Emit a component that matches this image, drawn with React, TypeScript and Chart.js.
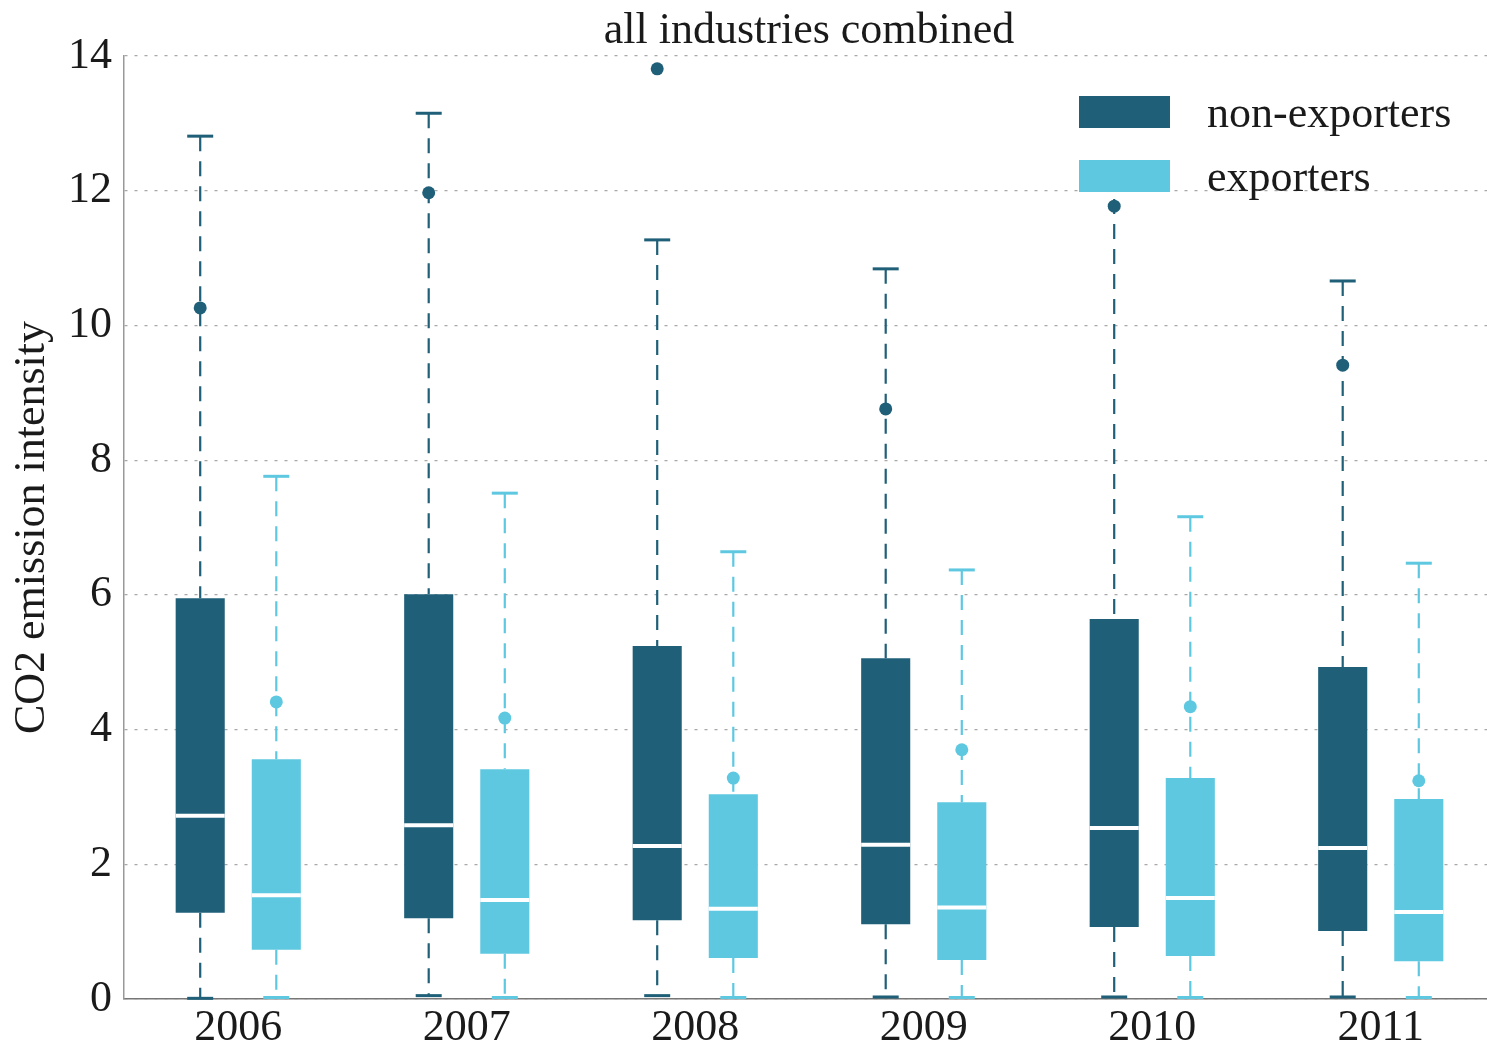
import React, { useEffect, useRef } from 'react';
import { Chart, registerables } from 'chart.js';

Chart.register(...registerables);

const years = ['2006', '2007', '2008', '2009', '2010', '2011'];
const seriesLabels = ['non-exporters', 'exporters'];
const seriesColors = ['#1f5f78', '#5ec8e1'];
const yTicks = [0, 2, 4, 6, 8, 10, 12, 14];

const nonExpLow = [0.01, 0.05, 0.05, 0.03, 0.03, 0.03];
const nonExpQ1 = [1.28, 1.2, 1.17, 1.11, 1.07, 1.01];
const nonExpMedian = [2.72, 2.58, 2.27, 2.29, 2.54, 2.24];
const nonExpQ3 = [5.95, 6.01, 5.24, 5.06, 5.64, 4.93];
const nonExpHigh = [12.81, 13.15, 11.27, 10.84, 12.25, 10.66];
const nonExpDot = [10.26, 11.97, 13.81, 8.76, 11.77, 9.41];

const expLow = [0, 0, 0, 0, 0, 0];
const expQ1 = [0.73, 0.67, 0.61, 0.58, 0.64, 0.56];
const expMedian = [1.54, 1.47, 1.34, 1.36, 1.5, 1.29];
const expQ3 = [3.56, 3.41, 3.04, 2.92, 3.28, 2.97];
const expHigh = [7.76, 7.51, 6.64, 6.37, 7.16, 6.47];
const expDot = [4.41, 4.17, 3.28, 3.7, 4.34, 3.24];

const stats = [
  { low: nonExpLow, q1: nonExpQ1, median: nonExpMedian, q3: nonExpQ3, high: nonExpHigh, dot: nonExpDot },
  { low: expLow, q1: expQ1, median: expMedian, q3: expQ3, high: expHigh, dot: expDot },
];

const FONT = "'Liberation Serif', 'Times New Roman', serif";
const TEXT = '#1a1a1a';

const boxPlugin = {
  id: 'boxExtras',
  beforeDatasetsDraw(chart: any) {
    const ctx = chart.ctx;
    const y = chart.scales.y;
    stats.forEach((s, di) => {
      const meta = chart.getDatasetMeta(di);
      meta.data.forEach((bar: any, i: number) => {
        const x = bar.x;
        ctx.save();
        ctx.strokeStyle = seriesColors[di];
        ctx.lineWidth = 2.2;
        ctx.setLineDash([15, 10]);
        ctx.beginPath();
        ctx.moveTo(x, y.getPixelForValue(s.high[i]));
        ctx.lineTo(x, y.getPixelForValue(s.q3[i]));
        ctx.stroke();
        ctx.beginPath();
        ctx.moveTo(x, y.getPixelForValue(s.q1[i]));
        ctx.lineTo(x, y.getPixelForValue(s.low[i]));
        ctx.stroke();
        ctx.restore();
      });
    });
  },
  afterDatasetsDraw(chart: any) {
    const ctx = chart.ctx;
    const y = chart.scales.y;
    stats.forEach((s, di) => {
      const meta = chart.getDatasetMeta(di);
      meta.data.forEach((bar: any, i: number) => {
        const x = bar.x;
        const w = bar.width;
        ctx.save();
        ctx.strokeStyle = seriesColors[di];
        ctx.lineWidth = 3;
        ctx.setLineDash([]);
        [s.high[i], s.low[i]].forEach((v) => {
          const py = y.getPixelForValue(v) - (v === 0 ? 1.5 : 0);
          ctx.beginPath();
          ctx.moveTo(x - 13, py);
          ctx.lineTo(x + 13, py);
          ctx.stroke();
        });
        ctx.strokeStyle = '#ffffff';
        ctx.lineWidth = 4;
        const my = y.getPixelForValue(s.median[i]);
        ctx.beginPath();
        ctx.moveTo(x - w / 2, my);
        ctx.lineTo(x + w / 2, my);
        ctx.stroke();
        ctx.fillStyle = seriesColors[di];
        ctx.beginPath();
        ctx.arc(x, y.getPixelForValue(s.dot[i]), 6.5, 0, Math.PI * 2);
        ctx.fill();
        ctx.restore();
      });
    });
  },
  afterDraw(chart: any) {
    const ctx = chart.ctx;
    ctx.save();
    ctx.font = `44px ${FONT}`;
    ctx.fillStyle = TEXT;
    ctx.textAlign = 'center';
    ctx.textBaseline = 'alphabetic';
    ctx.fillText('all industries combined', 809, 43);
    const bx = 1079;
    const tops = [96, 160];
    chart.data.datasets.forEach((ds: any, i: number) => {
      ctx.fillStyle = ds.backgroundColor;
      ctx.fillRect(bx, tops[i], 91, 32);
      ctx.fillStyle = TEXT;
      ctx.textAlign = 'left';
      ctx.fillText(ds.label, bx + 128, tops[i] + 31);
    });
    ctx.restore();
  },
};

export default function App() {
  const ref = useRef<HTMLCanvasElement | null>(null);
  useEffect(() => {
    if (!ref.current) return;
    const chart = new Chart(ref.current, {
      type: 'bar',
      data: {
        labels: years,
        datasets: stats.map((s, di) => ({
          label: seriesLabels[di],
          data: s.q1.map((q, i) => [q, s.q3[i]]),
          backgroundColor: seriesColors[di],
          borderWidth: 0,
          categoryPercentage: 0.666,
          barPercentage: 0.645,
        })),
      } as any,
      options: {
        animation: false,
        responsive: false,
        maintainAspectRatio: false,
        layout: { padding: { left: 0, right: 0, top: 56, bottom: 0 } },
        plugins: {
          legend: { display: false },
          title: { display: false },
          tooltip: { enabled: false },
        },
        scales: {
          x: {
            grid: { display: false, drawTicks: false },
            border: { display: true, color: '#777', width: 1.5 },
            ticks: { font: { family: FONT, size: 44 }, color: TEXT, padding: 3 },
            afterFit: (s: any) => {
              s.height = 46;
            },
          },
          y: {
            min: 0,
            max: 14,
            afterBuildTicks: (s: any) => {
              s.ticks = yTicks.map((v) => ({ value: v }));
            },
            ticks: { font: { family: FONT, size: 44 }, color: TEXT, padding: 12 },
            grid: { color: '#a8a8a8', lineWidth: 1.2, drawTicks: false },
            border: { display: true, color: '#999', width: 1.5, dash: [3, 7] },
            title: {
              display: true,
              text: 'CO2 emission intensity',
              font: { family: FONT, size: 44 },
              color: TEXT,
              padding: { top: 6, bottom: 0 },
            },
            afterFit: (s: any) => {
              s.width = 124;
            },
          },
        },
      } as any,
      plugins: [boxPlugin],
    });
    return () => chart.destroy();
  }, []);
  return (
    <div style={{ position: 'absolute', left: 0, top: 0, width: 1487, height: 1045, overflow: 'hidden' }}>
      <canvas ref={ref} width={1495} height={1045} />
    </div>
  );
}
